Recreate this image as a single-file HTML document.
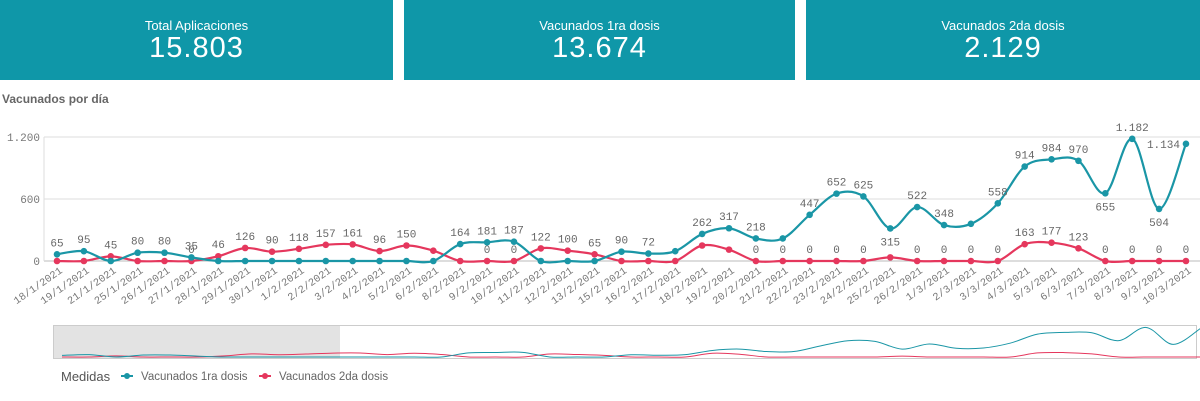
<!DOCTYPE html><html><head><meta charset="utf-8"><style>
body{margin:0;width:1200px;height:401px;background:#fff;overflow:hidden;font-family:"Liberation Sans",sans-serif;position:relative}
.box{position:absolute;top:0;height:80px;background:#0f97a8;color:#fff;text-align:center}
.box .t{font-size:13px;margin-top:18px}
.box .v{font-size:29px;line-height:30px;letter-spacing:1px}
</style></head><body>
<div class="box" style="left:0;width:393px"><div class="t">Total Aplicaciones</div><div class="v">15.803</div></div>
<div class="box" style="left:404px;width:391px"><div class="t">Vacunados 1ra dosis</div><div class="v">13.674</div></div>
<div class="box" style="left:806px;width:394px"><div class="t">Vacunados 2da dosis</div><div class="v">2.129</div></div>
<div style="position:absolute;left:2px;top:92px;font-size:12px;font-weight:bold;color:#666">Vacunados por día</div>
<svg id="s" width="1200" height="401" style="position:absolute;left:0;top:0"></svg>
<script>
var d=["18/1","19/1","21/1","25/1","26/1","27/1","28/1","29/1","30/1","1/2","2/2","3/2","4/2","5/2","6/2","8/2","9/2","10/2","11/2","12/2","13/2","15/2","16/2","17/2","18/2","19/2","20/2","21/2","22/2","23/2","24/2","25/2","26/2","1/3","2/3","3/3","4/3","5/3","6/3","7/3","8/3","9/3","10/3"];
var a=[65,95,0,80,80,35,0,0,0,0,0,0,0,0,0,164,181,187,0,0,0,90,72,95,262,317,218,218,447,652,625,315,522,348,360,558,914,984,970,655,1182,504,1134];
var al=[1,1,0,1,1,1,0,0,0,0,0,0,0,0,0,1,1,1,0,0,0,1,1,0,1,1,1,0,1,1,1,1,1,1,0,1,1,1,1,1,1,1,1];
var b=[0,0,45,0,0,0,46,126,90,118,157,161,96,150,100,0,0,0,122,100,65,0,0,0,150,110,0,0,0,0,0,35,0,0,0,0,163,177,123,0,0,0,0];
var bl=[0,0,1,0,0,1,1,1,1,1,1,1,1,1,0,0,1,1,1,1,1,0,0,0,0,0,1,1,1,1,1,0,1,1,1,1,1,1,1,1,1,1,1];
var below={31:1,39:1,41:1};
var X=function(i){return 57+i*26.88},Y=function(v){return 261-v*124/1200};
var s='';
s+='<line x1="44" y1="137" x2="1200" y2="137" stroke="#ddd"/><line x1="44" y1="199" x2="1200" y2="199" stroke="#ddd"/><line x1="44" y1="261" x2="1200" y2="261" stroke="#bbb"/><line x1="44" y1="137" x2="44" y2="261" stroke="#ddd"/>';
[["1.200",137],["600",199],["0",261]].forEach(function(t){s+='<text x="40" y="'+(t[1]+4)+'" text-anchor="end" font-size="11" fill="#777" font-family="Liberation Mono">'+t[0]+'</text>'});
function path(v,X,Y){var p=v.map(function(y,i){return[X(i),Y(y)]});var o='M'+p[0][0]+','+p[0][1];for(var i=0;i<p.length-1;i++){var p0=p[i-1]||p[i],p1=p[i],p2=p[i+1],p3=p[i+2]||p2;o+='C'+(p1[0]+(p2[0]-p0[0])/6)+','+(p1[1]+(p2[1]-p0[1])/6)+' '+(p2[0]-(p3[0]-p1[0])/6)+','+(p2[1]-(p3[1]-p1[1])/6)+' '+p2[0]+','+p2[1];}return o;}
[[b,bl,"#e5375d",0],[a,al,"#1a96a6",1]].forEach(function(S){s+='<path d="'+path(S[0],X,Y)+'" fill="none" stroke="'+S[2]+'" stroke-width="2.2"/>';S[0].forEach(function(v,i){s+='<circle cx="'+X(i)+'" cy="'+Y(v)+'" r="3.3" fill="'+S[2]+'"/>';if(S[1][i]){var ly=Y(v)-8,x=X(i),an="middle";if(S[3]&&below[i])ly=Y(v)+17;if(S[3]&&i==42){x=X(i)-6;an="end";ly=Y(v)+4;}var lab=v>=1000?(v+'').replace(/(\d)(\d{3})$/,'$1.$2'):v;s+='<text x="'+x+'" y="'+ly+'" text-anchor="'+an+'" font-size="11" fill="#666" font-family="Liberation Mono">'+lab+'</text>';}})});
d.forEach(function(t,i){s+='<text transform="translate('+(X(i)+6)+',272) rotate(-35)" text-anchor="end" font-size="10.5" fill="#777" font-family="Liberation Mono">'+t+'/2021</text>'});
s+='<rect x="53" y="325" width="287" height="34" fill="#e3e3e3"/><rect x="53.5" y="325.5" width="1143" height="33" fill="none" stroke="#ccc"/>';
var X2=function(i){return 62+i*27.1},Y2=function(v){return 357-v*30/1200};
s+='<path d="'+path(b,X2,Y2)+'" fill="none" stroke="#e5375d" stroke-width="1"/><path d="'+path(a,X2,Y2)+'" fill="none" stroke="#1a96a6" stroke-width="1"/>';
s+='<text x="61" y="381" font-size="13" fill="#555">Medidas</text><line x1="121" y1="376" x2="133" y2="376" stroke="#1a96a6" stroke-width="2"/><circle cx="127" cy="376" r="3" fill="#1a96a6"/><text x="141" y="380" font-size="11.5" fill="#666">Vacunados 1ra dosis</text><line x1="259" y1="376" x2="271" y2="376" stroke="#e5375d" stroke-width="2"/><circle cx="265" cy="376" r="3" fill="#e5375d"/><text x="279" y="380" font-size="11.5" fill="#666">Vacunados 2da dosis</text>';
document.getElementById('s').innerHTML=s;
</script></body></html>
